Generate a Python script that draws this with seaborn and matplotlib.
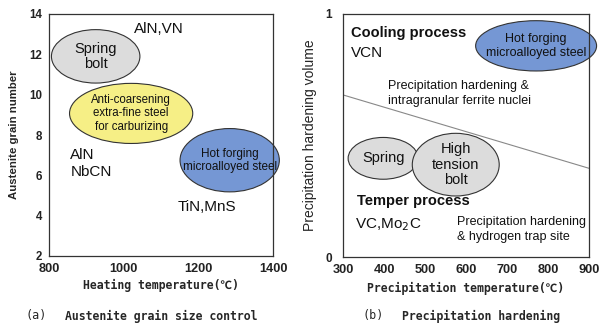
import matplotlib
matplotlib.use("Agg")
import matplotlib.pyplot as plt
from matplotlib.patches import Ellipse
import seaborn as sns
import pandas as pd

sns.set_theme(style="white")
plt.rcParams['font.family'] = ['Liberation Sans', 'DejaVu Sans']

# ---- Panel (a) data ----
a_xlim = [800, 1400]
a_ylim = [2, 14]
a_xticks = [800, 1000, 1200, 1400]
a_yticks = [2, 4, 6, 8, 10, 12, 14]
a_regions = ["Spring\nbolt", "Anti-coarsening\nextra-fine steel\nfor carburizing", "Hot forging\nmicroalloyed steel"]
a_cx = [925, 1020, 1284]
a_cy = [11.9, 9.07, 6.75]
a_w = [237, 330, 266]
a_h = [2.65, 2.98, 3.14]
a_colors = ["#dcdcdc", "#f6ef86", "#7597d4"]
a_label_txt = ["AlN,VN", "AlN\nNbCN", "TiN,MnS"]
a_label_x = [1093, 857, 1224]
a_label_y = [13.24, 6.58, 4.43]

# ---- Panel (b) data ----
b_xlim = [300, 900]
b_ylim = [0, 1]
b_xticks = [300, 400, 500, 600, 700, 800, 900]
b_yticks = [0, 1]
b_regions = ["Hot forging\nmicroalloyed steel", "Spring", "High\ntension\nbolt"]
b_cx = [771, 398, 575]
b_cy = [0.869, 0.406, 0.38]
b_w = [295, 171, 212]
b_h = [0.207, 0.172, 0.258]
b_colors = ["#7597d4", "#dcdcdc", "#dcdcdc"]
b_line_x = [300, 900]
b_line_y = [0.667, 0.365]

narrow = ['Liberation Sans', 'DejaVu Sans']
mono = ['DejaVu Sans Mono', 'Noto Sans CJK JP', 'DejaVu Sans']

fig = plt.figure(figsize=(6, 3.25), dpi=100)
axa = fig.add_axes([49/600, 1-256/325, 224/600, 242/325])
axb = fig.add_axes([343/600, 1-257/325, 246/600, 243/325])

for ax in (axa, axb):
    for s in ax.spines.values():
        s.set_color("#333333")
        s.set_linewidth(0.9)
    ax.tick_params(direction='in', length=2.5, width=0.8, color="#333333", pad=5)
    ax.grid(False)

# Panel (a)
axa.set_xlim(a_xlim)
axa.set_ylim(a_ylim)
axa.set_xticks(a_xticks)
axa.set_yticks(a_yticks)
axa.set_xticklabels([str(t) for t in a_xticks], fontsize=9.2, fontweight='bold', color="#222222")
axa.set_yticklabels([str(t) for t in a_yticks], fontsize=8.3, fontweight='bold', color="#222222")
sizes_a = [10.5, 8.3, 8.5]
for txt, cx, cy, w, h, c, fs in zip(a_regions, a_cx, a_cy, a_w, a_h, a_colors, sizes_a):
    axa.add_patch(Ellipse((cx, cy), w, h, facecolor=c, edgecolor="#333333", lw=0.8, clip_on=False, zorder=2))
    axa.text(cx, cy, txt, ha='center', va='center', fontsize=fs, family=narrow,
             color="#111111", linespacing=1.15, zorder=3)
for txt, x, y in zip(a_label_txt, a_label_x, a_label_y):
    ha = 'left' if txt.startswith("AlN\n") else 'center'
    axa.text(x, y, txt, ha=ha, va='center', fontsize=11, family=narrow, color="#111111", linespacing=1.25)
axa.set_xlabel("Heating temperature(℃)", fontsize=8.3, fontweight='bold', family=mono, labelpad=3)
axa.set_ylabel("Austenite grain number", fontsize=8.2, fontweight='bold', labelpad=7)

# Panel (b)
axb.set_xlim(b_xlim)
axb.set_ylim(b_ylim)
axb.set_xticks(b_xticks)
axb.set_yticks(b_yticks)
axb.set_xticklabels([str(t) for t in b_xticks], fontsize=9.2, fontweight='bold', color="#222222")
axb.set_yticklabels([str(t) for t in b_yticks], fontsize=8.5, fontweight='bold', color="#222222")
axb.tick_params(axis='y', length=0, pad=8)
line_df = pd.DataFrame({"x": b_line_x, "y": b_line_y})
sns.lineplot(data=line_df, x="x", y="y", ax=axb, color="#888888", lw=0.8, zorder=1)
sizes_b = [9, 10.5, 10.5]
for txt, cx, cy, w, h, c, fs in zip(b_regions, b_cx, b_cy, b_w, b_h, b_colors, sizes_b):
    axb.add_patch(Ellipse((cx, cy), w, h, facecolor=c, edgecolor="#333333", lw=0.8, clip_on=False, zorder=2))
    axb.text(cx, cy, txt, ha='center', va='center', fontsize=fs, family=narrow,
             color="#111111", linespacing=1.15, zorder=3)
axb.text(319, 0.92, "Cooling process", fontsize=10.5, fontweight='bold', va='center', ha='left', color="#111111")
axb.text(319, 0.84, "VCN", fontsize=11, family=narrow, va='center', ha='left', color="#111111")
axb.text(410, 0.672, "Precipitation hardening &\nintragranular ferrite nuclei", fontsize=9, family=narrow,
         va='center', ha='left', color="#111111", linespacing=1.3)
axb.text(333, 0.23, "Temper process", fontsize=10.5, fontweight='bold', va='center', ha='left', color="#111111")
axb.text(329, 0.134, "VC,Mo$_2$C", fontsize=11, family=narrow, va='center', ha='left', color="#111111")
axb.text(577, 0.113, "Precipitation hardening\n& hydrogen trap site", fontsize=9, family=narrow,
         va='center', ha='left', color="#111111", linespacing=1.3)
axb.set_xlabel("Precipitation temperature(℃)", fontsize=8.3, fontweight='bold', family=mono, labelpad=4)
axb.set_ylabel("Precipitation hardening volume", fontsize=10, family=narrow, labelpad=6)

# Captions
fig.text(25/600, 1-316/325, "(a)", fontsize=8.5, family=mono, va='center', ha='left')
fig.text(65/600, 1-316/325, "Austenite grain size control", fontsize=8.3, fontweight='bold', family=mono, va='center', ha='left')
fig.text(362/600, 1-316/325, "(b)", fontsize=8.5, family=mono, va='center', ha='left')
fig.text(402/600, 1-316/325, "Precipitation hardening", fontsize=8.3, fontweight='bold', family=mono, va='center', ha='left')

fig.savefig("out.png", dpi=100, facecolor="white")
